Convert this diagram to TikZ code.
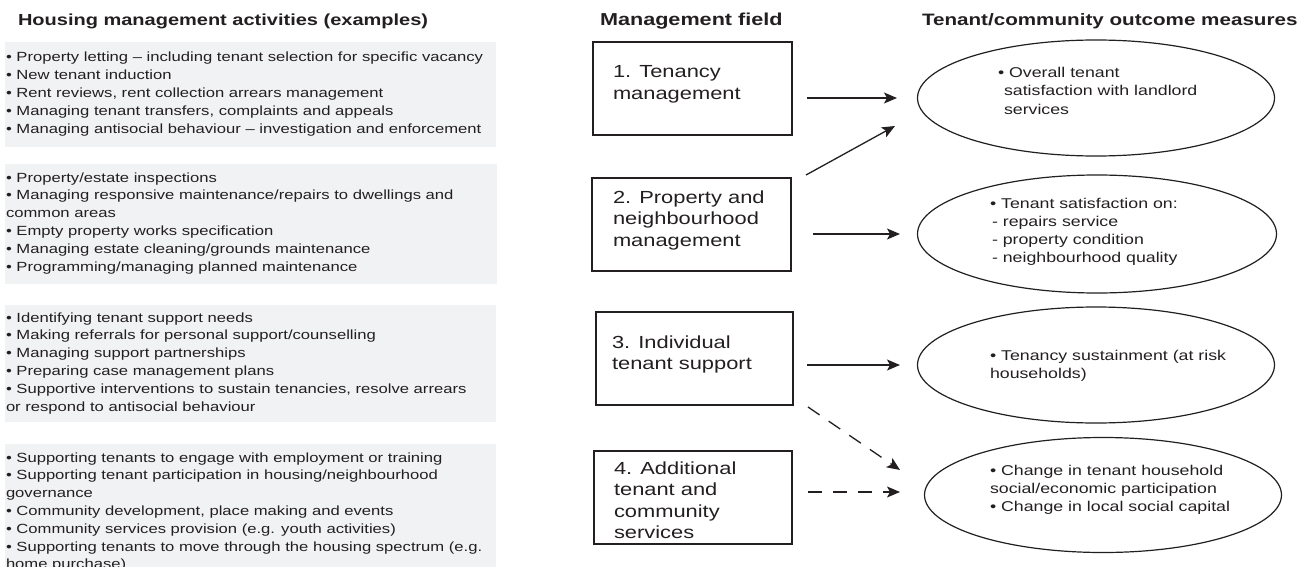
\documentclass[tikz,border=0pt]{standalone}
\usepackage{fontspec}
\setmainfont{Liberation Sans}[FakeStretch=1.25]
\usetikzlibrary{shapes.geometric,arrows.meta,calc}
\definecolor{ink}{RGB}{35,31,32}
\definecolor{panel}{RGB}{241,242,244}
\begin{document}
% multi-line text nodes are placed by the baseline of their last line
\begin{tikzpicture}[x=1pt,y=-1pt,
  every node/.style={inner sep=0pt, outer sep=0pt, text=ink},
  heading/.style={anchor=base west, font=\bfseries\fontsize{16.5}{20}\selectfont},
  actbox/.style={fill=panel, draw=none, anchor=north west},
  acttext/.style={anchor=base west, align=left, font=\fontsize{13.3}{17.8}\selectfont},
  fieldbox/.style={draw=ink, line width=1.2pt, anchor=north west, minimum height=93pt},
  fieldtext/.style={anchor=base west, align=left, font=\fontsize{17.5}{21.5}\selectfont},
  outcome/.style={ellipse, draw=ink, line width=1.2pt, minimum width=357pt, minimum height=116pt},
  outtext/.style={anchor=base west, align=left, font=\fontsize{14.2}{18}\selectfont},
  link/.style={draw=ink, line width=1.3pt, -{Stealth[length=13pt,width=11pt,inset=3pt]}},
  weaklink/.style={link, dash pattern=on 14pt off 11pt}
]
\useasboundingbox (0,0) rectangle (1303,567);

% column headings
\node[heading, font=\bfseries\fontsize{16}{20}\selectfont] (h1) at (18,26) {Housing management activities (examples)};
\node[heading, font=\bfseries\fontsize{17.3}{20}\selectfont] (h2) at (600,26) {Management field};
\node[heading] (h3) at (922,26) {Tenant/community outcome measures};

% activity panels
\node[actbox, minimum width=491pt, minimum height=105pt] (act1) at (5,42) {};
\node[actbox, minimum width=492pt, minimum height=120pt] (act2) at (5,164) {};
\node[actbox, minimum width=491pt, minimum height=117pt] (act3) at (5,305) {};
\node[actbox, minimum width=491pt, minimum height=130pt] (act4) at (5,444) {};

\node[acttext] (act1t) at (6,133.2) {%
• Property letting – including tenant selection for specific vacancy\\
• New tenant induction\\
• Rent reviews, rent collection arrears management\\
• Managing tenant transfers, complaints and appeals\\
• Managing antisocial behaviour – investigation and enforcement};

\node[acttext] (act2t) at (6,271) {%
• Property/estate inspections\\
• Managing responsive maintenance/repairs to dwellings and\\
common areas\\
• Empty property works specification\\
• Managing estate cleaning/grounds maintenance\\
• Programming/managing planned maintenance};

\node[acttext] (act3t) at (6,411) {%
• Identifying tenant support needs\\
• Making referrals for personal support/counselling\\
• Managing support partnerships\\
• Preparing case management plans\\
• Supportive interventions to sustain tenancies, resolve arrears\\
or respond to antisocial behaviour};

\node[acttext] (act4t) at (6,568.8) {%
• Supporting tenants to engage with employment or training\\
• Supporting tenant participation in housing/neighbourhood\\
governance\\
• Community development, place making and events\\
• Community services provision (e.g. youth activities)\\
• Supporting tenants to move through the housing spectrum (e.g.\\
home purchase)};

% management fields
\node[fieldbox, minimum width=199pt] (m1) at (593,42) {};
\node[fieldbox, minimum width=199pt] (m2) at (592,178) {};
\node[fieldbox, minimum width=197pt] (m3) at (596,312) {};
\node[fieldbox, minimum width=198pt] (m4) at (594,451) {};

\node[fieldtext] (m1t) at (613,99.5) {1. Tenancy\\management};
\node[fieldtext] (m2t) at (613,246) {2. Property and\\neighbourhood\\management};
\node[fieldtext] (m3t) at (612,369.5) {3. Individual\\tenant support};
\node[fieldtext] (m4t) at (614,538.5) {4. Additional\\tenant and\\community\\services};

% outcome measures
\node[outcome] (e1) at (1096,98) {};
\node[outcome, minimum width=359pt, minimum height=118pt] (e2) at (1097,234) {};
\node[outcome] (e3) at (1096,365) {};
\node[outcome, minimum height=115pt] (e4) at (1103,495) {};

\node[outtext] (e1t) at (998,114) {• Overall tenant\\\hspace{6pt}satisfaction with landlord\\\hspace{6pt}services};
\node[outtext] (e2t) at (990,262) {• Tenant satisfaction on:\\\hspace{2pt}- repairs service\\\hspace{2pt}- property condition\\\hspace{2pt}- neighbourhood quality};
\node[outtext] (e3t) at (990,378) {• Tenancy sustainment (at risk\\households)};
\node[outtext] (e4t) at (990,511) {• Change in tenant household\\social/economic participation\\• Change in local social capital};

% links from fields to outcomes
\coordinate (p2a) at (806,175);
\coordinate (p2b) at (895,126);
\coordinate (p5a) at (808,407);
\coordinate (p5b) at (900,470);

\draw[link, shorten <=15pt, shorten >=20.5pt] (m1.east |- e1.west) -- (e1.west);
\draw[link] (p2a) -- (p2b);
\draw[link, shorten <=22pt, shorten >=17.5pt] (m2.east |- e2.west) -- (e2.west);
\draw[link, shorten <=14pt, shorten >=17.5pt] (m3.east |- e3.west) -- (e3.west);
\draw[weaklink] (p5a) -- (p5b);
\draw[weaklink, shorten <=16pt, shorten >=24.5pt] ($(m4.east |- e4.west)+(0,-3)$) -- ($(e4.west)+(0,-3)$);
\end{tikzpicture}
\end{document}
